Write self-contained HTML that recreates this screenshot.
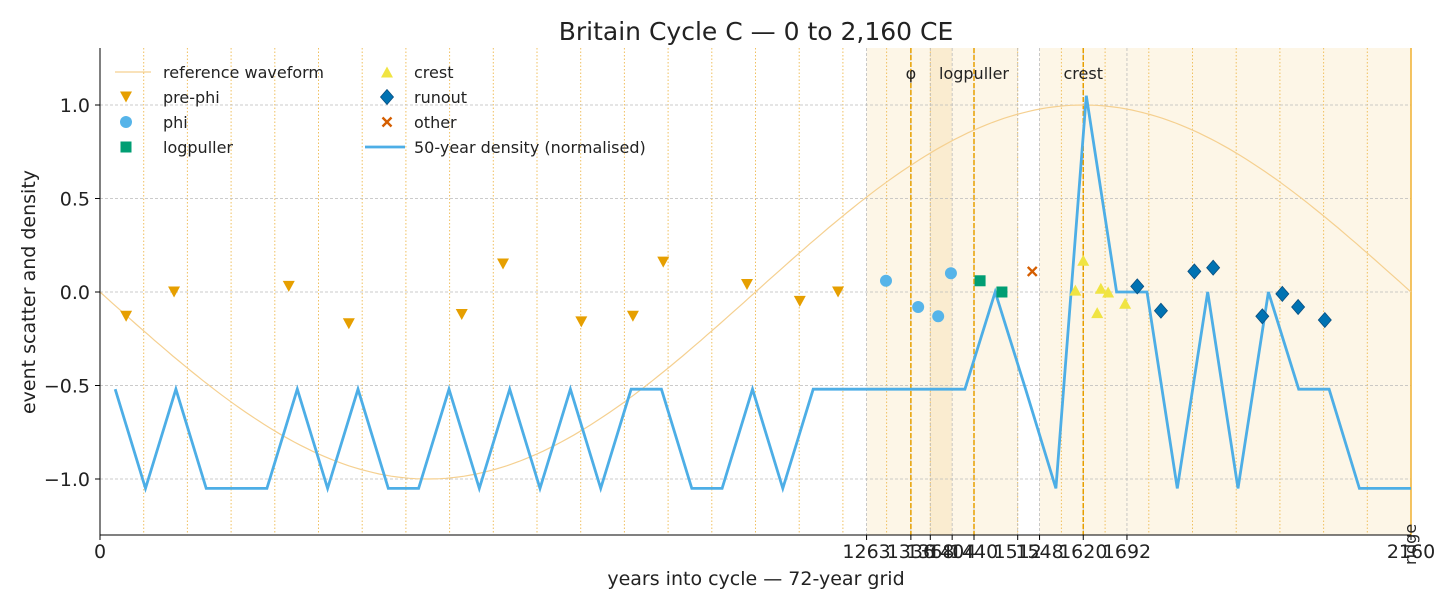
<!DOCTYPE html>
<html><head><meta charset="utf-8"><style>
body{margin:0;background:#fff;}
svg text{font-family:"DejaVu Sans","Liberation Sans",sans-serif;fill:#222;}
</style></head><body>
<svg id="chart" width="1456" height="607" xmlns="http://www.w3.org/2000/svg"></svg>
<script>
const densityYears=[25,75,125,175,225,275,325,375,425,475,525,575,625,675,725,775,825,875,925,975,1025,1075,1125,1175,1225,1275,1325,1375,1425,1475,1525,1575,1625,1675,1725,1775,1825,1875,1925,1975,2025,2075,2125,2160];
const densityValues=[-0.52,-1.05,-0.52,-1.05,-1.05,-1.05,-0.52,-1.05,-0.52,-1.05,-1.05,-0.52,-1.05,-0.52,-1.05,-0.52,-1.05,-0.52,-0.52,-1.05,-1.05,-0.52,-1.05,-0.52,-0.52,-0.52,-0.52,-0.52,-0.52,0.0,-0.52,-1.05,1.05,0.0,0.0,-1.05,0.0,-1.05,0.0,-0.52,-0.52,-1.05,-1.05,-1.05];
const prePhiX=[43,122,311,410,596,664,793,878,928,1066,1153,1216];
const prePhiY=[-0.13,0.0,0.03,-0.17,-0.12,0.15,-0.16,-0.13,0.16,0.04,-0.05,0.0];
const phiX=[1295,1348,1381,1402];
const phiY=[0.06,-0.08,-0.13,0.10];
const logpullerX=[1450,1486];
const logpullerY=[0.06,0.0];
const otherX=[1536];
const otherY=[0.11];
const crestX=[1607,1620,1643,1649,1661,1689];
const crestY=[0.01,0.17,-0.11,0.02,0.0,-0.06];
const runoutX=[1709,1748,1803,1834,1915,1948,1974,2018];
const runoutY=[0.03,-0.10,0.11,0.13,-0.13,-0.01,-0.08,-0.15];
const xTicks=[0,1263,1336,1368,1404,1440,1512,1548,1620,1692,2160];
const yTicks=[-1.0,-0.5,0.0,0.5,1.0];
const yTickLabels=["−1.0","−0.5","0.0","0.5","1.0"];
const markerLines=[1336,1440,1620];
const markerLabels=["φ","logpuller","crest"];

const svg=document.getElementById('chart');
const NS='http://www.w3.org/2000/svg';
const L=100,R=1411,T=48,B=535;
const xS=v=>L+(v/2160)*(R-L);
const yS=v=>292-v*187;
function mk(tag,attrs,parent){const e=document.createElementNS(NS,tag);for(const k in attrs)e.setAttribute(k,attrs[k]);(parent||svg).appendChild(e);return e;}

const sh1=mk('rect',{x:xS(1263),y:T,width:xS(1512)-xS(1263),height:B-T,fill:'#fdf6e7'});


const sh2=mk('rect',{x:xS(1548),y:T,width:xS(2160)-xS(1548),height:B-T,fill:'#fdf6e7'});


const sh3=mk('rect',{x:xS(1368),y:T,width:xS(1404)-xS(1368),height:B-T,fill:'#faecd0'});



for(let yr=72;yr<2160;yr+=72){
 const g=mk('line',{x1:xS(yr),x2:xS(yr),y1:T,y2:B,stroke:'#f0c060','stroke-width':1,'stroke-dasharray':'1.5,2'});
 
 
}
yTicks.forEach(v=>{const g=mk('line',{x1:L,x2:R,y1:yS(v),y2:yS(v),stroke:'#bbb','stroke-width':0.8,'stroke-dasharray':'3,2'});
 
 });
xTicks.forEach(v=>{if(v>0&&v<2160){const g=mk('line',{x1:xS(v),x2:xS(v),y1:T,y2:B,stroke:'#bbb','stroke-width':0.8,'stroke-dasharray':'3,2'});
 
 }});
markerLines.forEach((v,i)=>{const g=mk('line',{x1:xS(v),x2:xS(v),y1:T,y2:B,stroke:'#e69f00','stroke-width':1.5,'stroke-dasharray':'5,2'});
 
 
 const t=mk('text',{x:xS(v),y:79,'font-size':16,'text-anchor':'middle'});t.textContent=markerLabels[i];
 
 });
const re=mk('line',{x1:R,x2:R,y1:T,y2:B,stroke:'#f0b030','stroke-width':1.5});



let d='';for(let t=0;t<=2160;t+=10){d+=(t?'L':'M')+xS(t).toFixed(1)+','+yS(-Math.sin(2*Math.PI*t/2160)).toFixed(1);}
const wf=mk('path',{d:d,fill:'none',stroke:'#f5d090','stroke-width':1.2});



const dd=densityYears.map((x,i)=>(i?'L':'M')+xS(x).toFixed(1)+','+yS(densityValues[i]).toFixed(1)).join('');
const dl=mk('path',{d:dd,fill:'none',stroke:'#4daee6','stroke-width':2.8,'stroke-linejoin':'miter'});



function marker(type,x,y,color){
 let e;
 if(type==='tdown')e=mk('polygon',{points:`${x-6},${y-5.5} ${x+6},${y-5.5} ${x},${y+5.5}`,fill:color});
 else if(type==='tup')e=mk('polygon',{points:`${x-6},${y+5.5} ${x+6},${y+5.5} ${x},${y-5.5}`,fill:color});
 else if(type==='circle')e=mk('circle',{cx:x,cy:y,r:6,fill:color});
 else if(type==='square')e=mk('rect',{x:x-5.5,y:y-5.5,width:11,height:11,fill:color});
 else if(type==='diamond')e=mk('polygon',{points:`${x},${y-7.5} ${x+6.5},${y} ${x},${y+7.5} ${x-6.5},${y}`,fill:color,stroke:'#0a4f80','stroke-width':0.8});
 else e=mk('path',{d:`M${x-4.5},${y-4.5}L${x+4.5},${y+4.5}M${x+4.5},${y-4.5}L${x-4.5},${y+4.5}`,stroke:color,'stroke-width':2.4});
 return e;
}
function series(xs,ys,type,color,name){xs.forEach((x,i)=>{const e=marker(type,xS(x),yS(ys[i]),color);
 
 });}
series(prePhiX,prePhiY,'tdown','#e69f00','pre-phi-point');
series(phiX,phiY,'circle','#56b4e9','phi-point');
series(logpullerX,logpullerY,'square','#009e73','logpuller-point');
series(otherX,otherY,'x','#d55e00','other-point');
series(crestX,crestY,'tup','#f0e442','crest-point');
series(runoutX,runoutY,'diamond','#0072b2','runout-point');

const ax=mk('path',{d:`M${L},${T}L${L},${B}L${R},${B}`,fill:'none',stroke:'#000','stroke-width':1});


yTicks.forEach((v,i)=>{mk('line',{x1:L-5,x2:L,y1:yS(v),y2:yS(v),stroke:'#000'});
 const t=mk('text',{x:L-10,y:yS(v)+7,'font-size':19,'text-anchor':'end'});t.textContent=yTickLabels[i];
 
 });
xTicks.forEach(v=>{mk('line',{x1:xS(v),x2:xS(v),y1:B,y2:B+5,stroke:'#000'});
 const t=mk('text',{x:xS(v),y:B+23,'font-size':19,'text-anchor':'middle'});t.textContent=String(v);
 
 });
const rl=mk('text',{x:0,y:0,'font-size':16,'text-anchor':'start',transform:`translate(${R+5},${B+30}) rotate(-90)`});rl.textContent='ridge';



const tt=mk('text',{x:756,y:40,'font-size':25,'text-anchor':'middle'});tt.textContent='Britain Cycle C — 0 to 2,160 CE';


const xl=mk('text',{x:756,y:585,'font-size':19,'text-anchor':'middle'});xl.textContent='years into cycle — 72-year grid';


const yl=mk('text',{x:0,y:0,'font-size':19,'text-anchor':'middle',transform:'translate(35,292) rotate(-90)'});yl.textContent='event scatter and density';



const leg=[['line-thin','#f5d090','reference waveform',0,0],['tdown','#e69f00','pre-phi',0,1],['circle','#56b4e9','phi',0,2],['square','#009e73','logpuller',0,3],
['tup','#f0e442','crest',1,0],['diamond','#0072b2','runout',1,1],['x','#d55e00','other',1,2],['line','#4daee6','50-year density (normalised)',1,3]];
leg.forEach(([type,c,label,col,row])=>{
 const cx=col?397:133, y=72+row*25, tx=col?414:163;
 let e;
 if(type==='line-thin')e=mk('line',{x1:cx-18,x2:cx+18,y1:y,y2:y,stroke:c,'stroke-width':1.2});
 else if(type==='line')e=mk('line',{x1:cx-32,x2:cx+8,y1:y,y2:y,stroke:c,'stroke-width':2.8});
 else e=marker(type,col?cx-10:cx-7,y,c);
 
 
 const t=mk('text',{x:tx,y:y+6,'font-size':16});t.textContent=label;
 
 
});
</script>
</body></html>
